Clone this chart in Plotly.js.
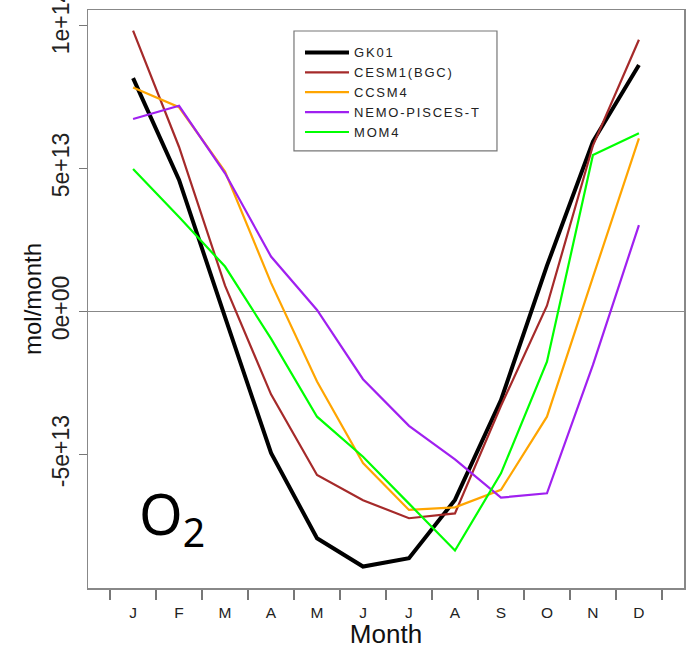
<!DOCTYPE html>
<html>
<head>
<meta charset="utf-8">
<script src="https://cdn.plot.ly/plotly-3.0.1.min.js"></script>
<style>html,body{margin:0;padding:0;background:#fff;}#chart{width:693px;height:649px;}.legendtext{letter-spacing:1.8px;}</style>
</head>
<body>
<div id="chart"></div>
<script>
const months = [1,2,3,4,5,6,7,8,9,10,11,12];
const monthLabels = ["J","F","M","A","M","J","J","A","S","O","N","D"];
const scale = 1e12;
const gk01  = [81.6, 46, -2, -49.5, -79.3, -89.2, -86.3, -65.9, -31, 16, 59.4, 86.2];
const cesm1 = [98.2, 57.5, 9, -29, -57.2, -66, -72.3, -70.6, -33, 2, 58, 95];
const ccsm4 = [78.3, 71.4, 48.9, 10, -24.5, -53, -69.4, -68.5, -62.4, -36.8, 12, 60.5];
const nemo  = [67.3, 71.9, 48.3, 19.2, 0.5, -23.7, -40, -51.7, -65.1, -63.6, -18.7, 30.2];
const mom4  = [49.8, 33, 15.7, -9.5, -36.8, -50.8, -67.2, -83.6, -56.6, -17.6, 54.7, 62.3];
const seriesNames = ["GK01","CESM1(BGC)","CCSM4","NEMO-PISCES-T","MOM4"];
const yTickVals = [-5e13, 0, 5e13, 1e14];
const yTickText = ["-5e+13","0e+00","5e+13","1e+14"];
const monthEdges = [0.5,1.5,2.5,3.5,4.5,5.5,6.5,7.5,8.5,9.5,10.5,11.5,12.5];

const seriesData = [gk01, cesm1, ccsm4, nemo, mom4];
const colors = ["#000000","#A52A2A","#FFA500","#A020F0","#00FF00"];
const widths = [4, 2.2, 2.2, 2.2, 2.2];

const traces = seriesData.map((s, i) => ({
  type: "scatter", mode: "lines",
  x: months, y: s.map(v => v * scale),
  name: seriesNames[i],
  line: {color: colors[i], width: widths[i]}
}));

const font = "Liberation Sans, Arial, sans-serif";
const layout = {
  width: 693, height: 649,
  margin: {l: 88, r: 9, t: 10, b: 61},
  paper_bgcolor: "#fff", plot_bgcolor: "#fff",
  showlegend: true,
  legend: {
    x: 0.3557, y: 0.9525, xanchor: "left", yanchor: "top",
    bgcolor: "rgba(0,0,0,0)", borderwidth: 0,
    itemwidth: 44,
    font: {family: font, size: 13, color: "#222"}
  },
  shapes: [{
    type: "rect", xref: "paper", yref: "paper",
    x0: 0.3456, x1: 0.6862, y0: 0.7561, y1: 0.9637,
    line: {color: "#777", width: 1.2}, fillcolor: "#fff", layer: "above"
  }],
  xaxis: {
    range: [0.02, 12.98],
    tickmode: "array", tickvals: months, ticktext: monthLabels,
    ticks: "", ticklabelstandoff: 10,
    tickfont: {family: font, size: 15.5, color: "#222"},
    minor: {ticks: "outside", ticklen: 10, tickwidth: 1.2, tickcolor: "#777",
            tickmode: "array", tickvals: monthEdges, showgrid: false},
    showgrid: false, zeroline: false,
    showline: true, mirror: true, linecolor: "#888", linewidth: 1.5,
    title: {text: "Month", font: {family: font, size: 26, color: "#111"}, standoff: 5}
  },
  yaxis: {
    range: [-96.7e12, 105.4e12],
    tickmode: "array", tickvals: yTickVals, ticktext: yTickText,
    ticks: "outside", ticklen: 8, tickwidth: 1.2, tickcolor: "#777",
    tickangle: -90, ticklabeloverflow: "allow",
    tickfont: {family: font, size: 23, color: "#222"},
    showgrid: false,
    zeroline: true, zerolinecolor: "#888", zerolinewidth: 1.3,
    showline: true, mirror: true, linecolor: "#888", linewidth: 1.5,
    title: {text: "mol/month", font: {family: font, size: 24, color: "#111"}, standoff: 0}
  },
  annotations: [{
    text: "O<sub>2</sub>", xref: "paper", yref: "paper",
    x: 0.082, y: 0.123, xanchor: "left", yanchor: "middle",
    showarrow: false, font: {family: "Noto Sans, Open Sans, sans-serif", size: 56, color: "#000"}
  }]
};
Plotly.newPlot("chart", traces, layout, {staticPlot: true, displayModeBar: false});
</script>
</body>
</html>
